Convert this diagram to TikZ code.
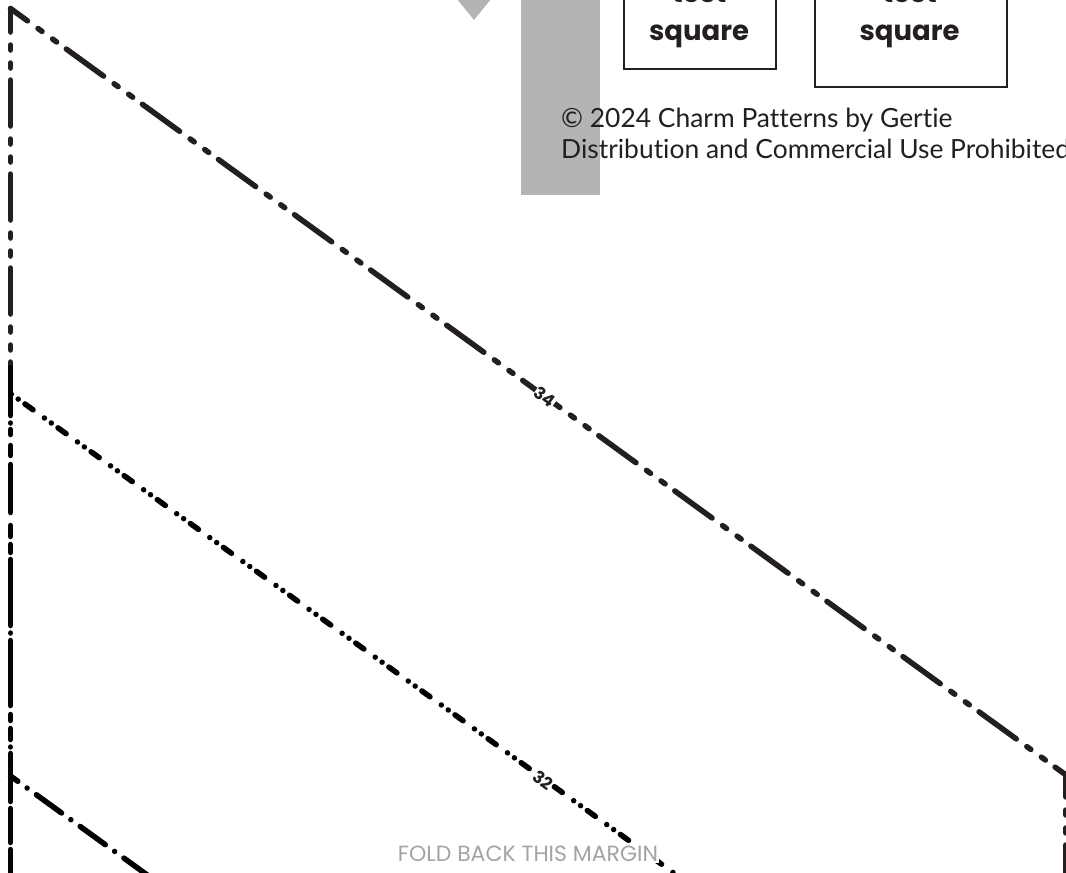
\documentclass[tikz,border=0pt]{standalone}
\usepackage{fontspec}
\setmainfont{Poppins}
\newfontfamily\notefont[Ligatures=NoCommon]{Lato}
\definecolor{inkblack}{HTML}{231F20}
\definecolor{markgray}{HTML}{B4B4B3}
\definecolor{foldgray}{HTML}{A3A4A6}

\begin{document}
\begin{tikzpicture}[x=1pt,y=-1pt]
        % Define the styles
        \tikzset{
            cutline/.style={draw=inkblack,line width=5.5pt,line cap=round},
            sizea/.style={cutline,dash pattern=on 46pt off 13pt on 5pt off 13pt on 5pt off 12pt},
            sizeb/.style={cutline,draw=black,dash pattern=on 10pt off 14pt on 0.01pt off 8.5pt on 0.01pt off 8.3pt},
            sizec/.style={cutline,draw=black,dash pattern=on 31pt off 11.5pt on 0.01pt off 11.5pt},
            leftrun/.style={cutline,draw=black!90!inkblack,dash pattern=on 48pt off 7.5pt on 0.01pt off 6.5pt on 5pt off 11pt on 10pt off 9pt on 48pt off 13pt on 11pt off 8pt on 8pt off 7pt on 66pt off 7.5pt on 0.01pt off 7.5pt on 65pt off 9pt on 6pt off 8pt on 11pt off 7.5pt on 0.01pt off 6.5pt on 48pt off 7pt on 34pt off 7pt on 40pt off 100pt},
            sizelabel/.style={fill=white,inner sep=0.5pt,text=inkblack,font=\bfseries\fontsize{17}{17}\selectfont,rotate=-36},
            testbox/.style={draw=inkblack,line width=2pt,anchor=south west},
            testlabel/.style={text=inkblack,font=\bfseries\fontsize{27.5}{38}\selectfont,align=center},
            notelabel/.style={text=inkblack,font=\notefont\fontsize{26.4}{31}\selectfont,align=left,anchor=north west,inner sep=0pt},
        }
        \clip (0,0) rectangle (1066,873);

        % Grey marks
        \fill[markgray] (521,-1) rectangle (600,195);
        \fill[markgray] (457,-1) -- (491,-1) -- (474,20) -- cycle;

        % Corners
        \coordinate (topcorner) at (10.5,8.5);
        \coordinate (rightcorner) at (1066,775);
        \coordinate (bleft) at (10.5,393.5);
        \coordinate (bright) at (700,892);
        \coordinate (cleft) at (10.5,776);
        \coordinate (cright) at (150,877);
        \coordinate (runstart) at (10.5,367.5);
        \coordinate (runend) at (10.5,880);
        \coordinate (rightend) at (1066,880);

        % Lines
        \draw[sizea,dash phase=25pt] (topcorner) -- (rightcorner);
        \draw[sizea,dash phase=22.5pt] (topcorner) -- (runstart);
        \draw[sizea,dash phase=24pt] (rightcorner) -- (rightend);
        \draw[leftrun] (runstart) -- (runend);
        \draw[sizeb,dash phase=23pt] (bleft) -- (bright);
        \draw[sizec,dash phase=22pt] (cleft) -- (cright);

        % Test squares
        \node[testbox,minimum width=152pt,minimum height=120pt] (smallbox) at (623,70) {};
        \node[testbox,minimum width=192pt,minimum height=138pt] (largebox) at (814,88) {};
        \node[testlabel,anchor=base] (smalltext) at (699,40) {square};
        \node[testlabel,anchor=base] (smallword) at (699,2) {test};
        \node[testlabel,anchor=base] (largetext) at (909.5,40) {square};
        \node[testlabel,anchor=base] (largeword) at (909.5,2) {test};

        % Labels
        \node[notelabel] (note) at (561,108) {© 2024 Charm Patterns by Gertie\\Distribution and Commercial Use Prohibited};
        \node[sizelabel] (labela) at (545,397) {34};
        \node[sizelabel] (labelb) at (543,780) {32};
        \node[fill=white,text=foldgray,inner sep=1pt,font=\fontsize{22}{22}\selectfont] (fold) at (528,854) {FOLD BACK THIS MARGIN};
    \end{tikzpicture}
\end{document}
